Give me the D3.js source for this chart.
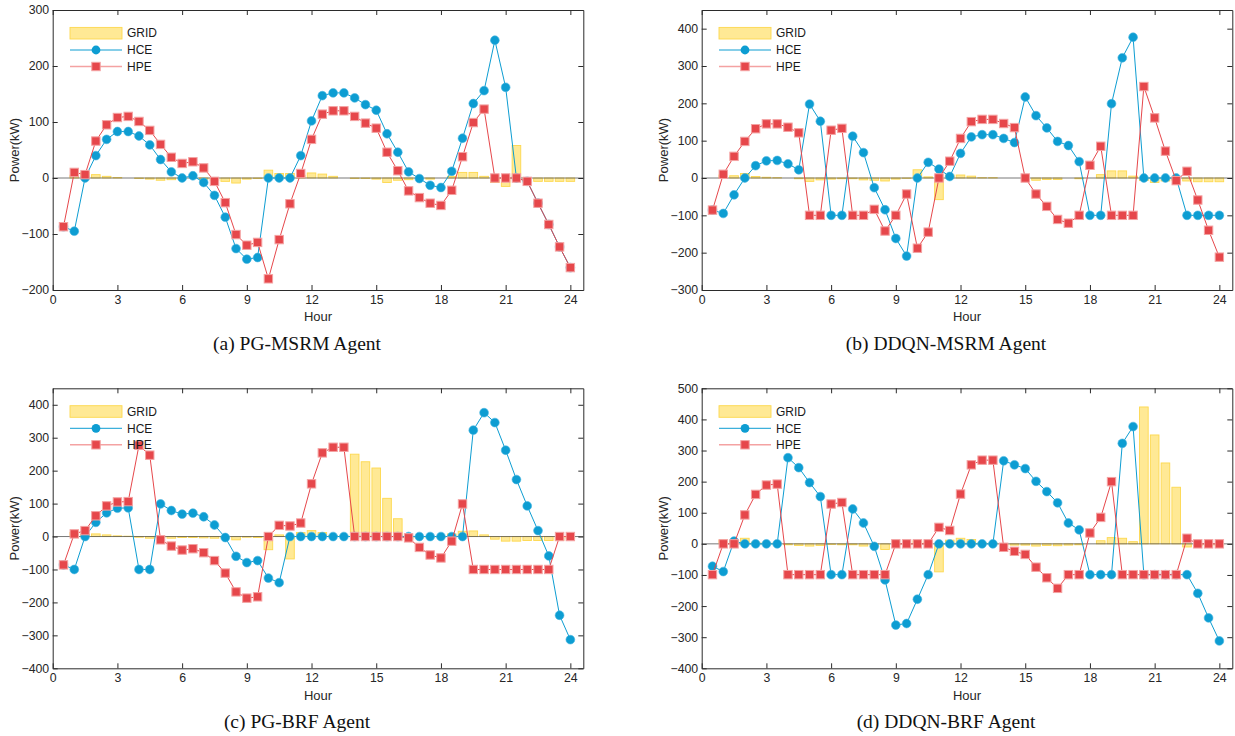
<!DOCTYPE html>
<html>
<head>
<meta charset="utf-8">
<script src="https://cdn.jsdelivr.net/npm/d3@7"></script>
<style>
  body { margin: 0; background: #fff; }
  svg { display: block; }
</style>
</head>
<body>
<svg id="chart" width="1235" height="736"></svg>
<script>
// half-hour steps of the day
var hours = [0.5, 1, 1.5, 2, 2.5, 3, 3.5, 4, 4.5, 5, 5.5, 6,
             6.5, 7, 7.5, 8, 8.5, 9, 9.5, 10, 10.5, 11, 11.5, 12,
             12.5, 13, 13.5, 14, 14.5, 15, 15.5, 16, 16.5, 17, 17.5, 18,
             18.5, 19, 19.5, 20, 20.5, 21, 21.5, 22, 22.5, 23, 23.5, 24];
var xTicks = [0, 3, 6, 9, 12, 15, 18, 21, 24];
var seriesNames = ["GRID", "HCE", "HPE"];

// (a) PG-MSRM
var gridA = [0, 5, 10, 6, 3, 1, 0, -1, -2, -4, -3, -1,
             0, -2, -4, -6, -9, -2, -1, 14, 8, 8, 5, 9,
             7, 3, 0, -1, -1, -2, -8, -4, -3, -1, -2, 0,
             3, 10, 10, 3, -8, -15, 58, -5, -6, -6, -6, -6];
var hceA = [-87, -95, 0, 40, 69, 83, 83, 75, 59, 33, 11, 0,
            4, -8, -31, -70, -126, -145, -142, 0, 0, 0, 40, 102,
            147, 152, 152, 143, 131, 121, 79, 46, 11, -1, -13, -17,
            12, 71, 133, 156, 246, 162, 0, -6, -45, -83, -123, -160];
var hpeA = [-87, 10, 6, 66, 95, 108, 110, 101, 85, 60, 37, 26,
            29, 18, -6, -44, -101, -120, -115, -180, -110, -46, 8, 69,
            114, 120, 120, 110, 98, 89, 46, 13, -23, -35, -45, -49,
            -22, 38, 99, 123, 0, 0, 0, -6, -45, -83, -123, -160];
var yTicksA = [-200, -100, 0, 100, 200, 300];

// (b) DDQN-MSRM
var gridB = [0, 8, 6, 12, 4, 2, 1, 0, -2, -9, -5, -3,
             -2, -2, -5, -6, -8, -3, -1, 22, 3, -58, 8, 8,
             5, 1, 1, 0, 0, 0, -6, -4, -4, 0, -2, 0,
             9, 19, 19, 5, -7, -12, -8, -6, -8, -10, -10, -10];
var hceB = [-86, -95, -45, 0, 33, 46, 47, 38, 22, 198, 152, -100,
            -100, 112, 68, -26, -85, -162, -209, 0, 42, 24, 4, 66,
            110, 116, 116, 106, 95, 217, 167, 134, 98, 87, 44, -100,
            -100, 199, 322, 377, 0, 0, 0, 0, -100, -100, -100, -100];
var hpeB = [-86, 10, 58, 98, 132, 145, 145, 136, 121, -100, -100, 128,
            133, -100, -100, -84, -142, -100, -43, -188, -145, 0, 45, 106,
            151, 157, 157, 146, 135, 0, -43, -76, -111, -121, -100, 34,
            85, -100, -100, -100, 245, 161, 72, -7, 18, -59, -140, -212];
var yTicksB = [-300, -200, -100, 0, 100, 200, 300, 400];

// (c) PG-BRF
var gridC = [0, 12, 6, 8, 5, 2, 1, -2, -5, -3, -5, -3,
             -3, -4, -5, -5, -10, -2, -3, -40, 5, -68, 12, 18,
             12, 3, 2, 250, 227, 208, 116, 54, -8, -3, -2, -2,
             8, 16, 17, 5, -8, -14, -14, -12, -12, -12, -12, -5];
var hceC = [-86, -100, 0, 43, 72, 86, 87, -100, -100, 99, 79, 68,
            71, 60, 35, -3, -60, -79, -73, -126, -140, 0, 0, 0,
            0, 0, 0, 0, 0, 0, 0, 0, 0, 0, 0, 0,
            0, 0, 323, 376, 346, 262, 173, 93, 18, -59, -239, -313];
var hpeC = [-86, 8, 18, 63, 93, 105, 106, 277, 247, -10, -29, -41,
            -37, -49, -73, -111, -168, -187, -183, 0, 34, 32, 41, 160,
            254, 271, 271, 0, 0, 0, 0, 0, -4, -33, -56, -65,
            -14, 99, -100, -100, -100, -100, -100, -100, -100, -100, 0, 0];
var yTicksC = [-400, -300, -200, -100, 0, 100, 200, 300, 400];

// (d) DDQN-BRF
var gridD = [0, 12, 10, 18, 5, 3, 2, -3, -5, -7, -5, -2,
             -3, -3, -7, -5, -18, -2, -2, 10, 3, -90, 12, 18,
             14, 3, 2, -3, -4, -4, -7, -5, -6, -4, -3, 0,
             10, 20, 18, 7, 440, 350, 260, 182, -10, -5, -5, -5];
var hceD = [-72, -89, 9, 0, 0, 0, 0, 277, 245, 197, 152, -99,
            -99, 112, 67, -8, -116, -261, -256, -178, -99, 0, 0, 0,
            0, 0, 0, 267, 254, 242, 201, 168, 132, 67, 45, -99,
            -99, -99, 323, 377, -99, -99, -99, -99, -99, -159, -238, -312];
var hpeD = [-99, 0, 0, 93, 159, 189, 192, -99, -99, -99, -99, 128,
            133, -99, -99, -99, -99, 0, 0, 0, 0, 53, 43, 160,
            254, 269, 269, -11, -24, -34, -75, -109, -143, -99, -99, 35,
            85, 200, -99, -99, -99, -99, -99, -99, 18, 0, 0, 0];
var yTicksD = [-400, -300, -200, -100, 0, 100, 200, 300, 400, 500];

var gridFill = "#ffe995", gridEdge = "#fdd84e";
var blue = "#0d9dd2", red = "#e6474b", redEdge = "#f4a2a2";
var axisColor = "#2b2b2b";
var sans = "'Liberation Sans', Arial, Helvetica, sans-serif";
var serif = "'Liberation Serif', 'Times New Roman', serif";

var panels = [
  { caption: "(a) PG-MSRM Agent", left: 52.7, right: 583.3, top: 10, bottom: 290,
    yDomain: [-200, 300], yTicks: yTicksA, grid: gridA, hce: hceA, hpe: hpeA },
  { caption: "(b) DDQN-MSRM Agent", left: 701.7, right: 1232.3, top: 10, bottom: 290,
    yDomain: [-300, 450], yTicks: yTicksB, grid: gridB, hce: hceB, hpe: hpeB },
  { caption: "(c) PG-BRF Agent", left: 52.7, right: 583.3, top: 388.3, bottom: 668.3,
    yDomain: [-400, 450], yTicks: yTicksC, grid: gridC, hce: hceC, hpe: hpeC },
  { caption: "(d) DDQN-BRF Agent", left: 701.7, right: 1232.3, top: 388.3, bottom: 668.3,
    yDomain: [-400, 500], yTicks: yTicksD, grid: gridD, hce: hceD, hpe: hpeD }
];

var svg = d3.select("#chart");

function styleAxis(sel) {
  sel.attr("font-family", sans).attr("font-size", 12.3);
  sel.select(".domain").attr("stroke", axisColor);
  sel.selectAll(".tick line").attr("stroke", axisColor);
  sel.selectAll(".tick text").attr("fill", "#262626");
}

function drawSquare(el, cx, cy, s) {
  return el.append("rect").attr("x", cx - s / 2).attr("y", cy - s / 2)
    .attr("width", s).attr("height", s)
    .attr("fill", red).attr("stroke", redEdge).attr("stroke-width", 1);
}

function drawPanel(p) {
  var g = svg.append("g");
  var x = d3.scaleLinear().domain([0, 24.6]).range([p.left, p.right]);
  var y = d3.scaleLinear().domain(p.yDomain).range([p.bottom, p.top]);
  var barW = x(0.4) - x(0);

  // grid exchange bars
  g.append("g").selectAll("rect").data(p.grid).join("rect")
    .attr("x", function(d, i) { return x(hours[i]) - barW / 2; })
    .attr("y", function(d) { return y(Math.max(0, d)); })
    .attr("width", barW)
    .attr("height", function(d) { return Math.abs(y(d) - y(0)); })
    .attr("fill", gridFill).attr("stroke", gridEdge).attr("stroke-width", 0.9);

  g.append("line").attr("x1", p.left).attr("x2", p.right)
    .attr("y1", y(0)).attr("y2", y(0))
    .attr("stroke", "#555").attr("stroke-width", 0.8);

  var line = d3.line().x(function(d, i) { return x(hours[i]); }).y(function(d) { return y(d); });

  // HCE
  g.append("path").datum(p.hce).attr("d", line)
    .attr("fill", "none").attr("stroke", blue).attr("stroke-width", 1);
  g.append("g").selectAll("circle").data(p.hce).join("circle")
    .attr("cx", function(d, i) { return x(hours[i]); })
    .attr("cy", function(d) { return y(d); })
    .attr("r", 4.4).attr("fill", blue).attr("stroke", "#47b6e0").attr("stroke-width", 0.6);

  // HPE
  g.append("path").datum(p.hpe).attr("d", line)
    .attr("fill", "none").attr("stroke", red).attr("stroke-width", 1);
  var sq = g.append("g");
  p.hpe.forEach(function(d, i) { drawSquare(sq, x(hours[i]), y(d), 8.4); });

  // box axes with inward ticks
  g.append("g").attr("transform", "translate(0," + p.bottom + ")")
    .call(d3.axisBottom(x).tickValues(xTicks).tickSizeInner(-5).tickSizeOuter(0).tickPadding(5.3))
    .call(styleAxis);
  g.append("g").attr("transform", "translate(0," + p.top + ")")
    .call(d3.axisTop(x).tickValues(xTicks).tickSizeInner(-5).tickSizeOuter(0).tickFormat(""))
    .call(styleAxis);
  g.append("g").attr("transform", "translate(" + p.left + ",0)")
    .call(d3.axisLeft(y).tickValues(p.yTicks).tickSizeInner(-5).tickSizeOuter(0).tickPadding(3.5))
    .call(styleAxis);
  g.append("g").attr("transform", "translate(" + p.right + ",0)")
    .call(d3.axisRight(y).tickValues(p.yTicks).tickSizeInner(-5).tickSizeOuter(0).tickFormat(""))
    .call(styleAxis);

  // axis titles
  g.append("text").attr("x", (p.left + p.right) / 2).attr("y", p.bottom + 31.3)
    .attr("text-anchor", "middle").attr("font-family", sans).attr("font-size", 13)
    .attr("fill", "#262626").text("Hour");
  g.append("text")
    .attr("transform", "translate(" + (p.left - 33.5) + "," + ((p.top + p.bottom) / 2) + ") rotate(-90)")
    .attr("text-anchor", "middle").attr("font-family", sans).attr("font-size", 13)
    .attr("fill", "#262626").text("Power(kW)");

  // caption
  g.append("text").attr("x", (p.left + p.right) / 2 - 21).attr("y", p.bottom + 59.5)
    .attr("text-anchor", "middle").attr("font-family", serif).attr("font-size", 19.5)
    .attr("fill", "#111").text(p.caption);

  // legend
  var lx = p.left + 17.3, lw = 52, rows = [p.top + 23.2, p.top + 40, p.top + 56.5];
  var lg = g.append("g");
  lg.append("rect").attr("x", lx).attr("y", rows[0] - 5.8).attr("width", lw).attr("height", 11.6)
    .attr("fill", gridFill).attr("stroke", gridEdge).attr("stroke-width", 0.9);
  lg.append("line").attr("x1", lx).attr("x2", lx + lw).attr("y1", rows[1]).attr("y2", rows[1])
    .attr("stroke", blue).attr("stroke-width", 1);
  lg.append("circle").attr("cx", lx + lw / 2).attr("cy", rows[1]).attr("r", 4.4).attr("fill", blue);
  lg.append("line").attr("x1", lx).attr("x2", lx + lw).attr("y1", rows[2]).attr("y2", rows[2])
    .attr("stroke", redEdge).attr("stroke-width", 1.5);
  drawSquare(lg, lx + lw / 2, rows[2], 8.4);
  lg.selectAll("text.lab").data(seriesNames).join("text")
    .attr("x", lx + lw + 5).attr("y", function(d, i) { return rows[i] + 4.2; })
    .attr("font-family", sans).attr("font-size", 12).attr("fill", "#1a1a1a")
    .text(function(d) { return d; });
}

panels.forEach(drawPanel);
</script>
</body>
</html>
